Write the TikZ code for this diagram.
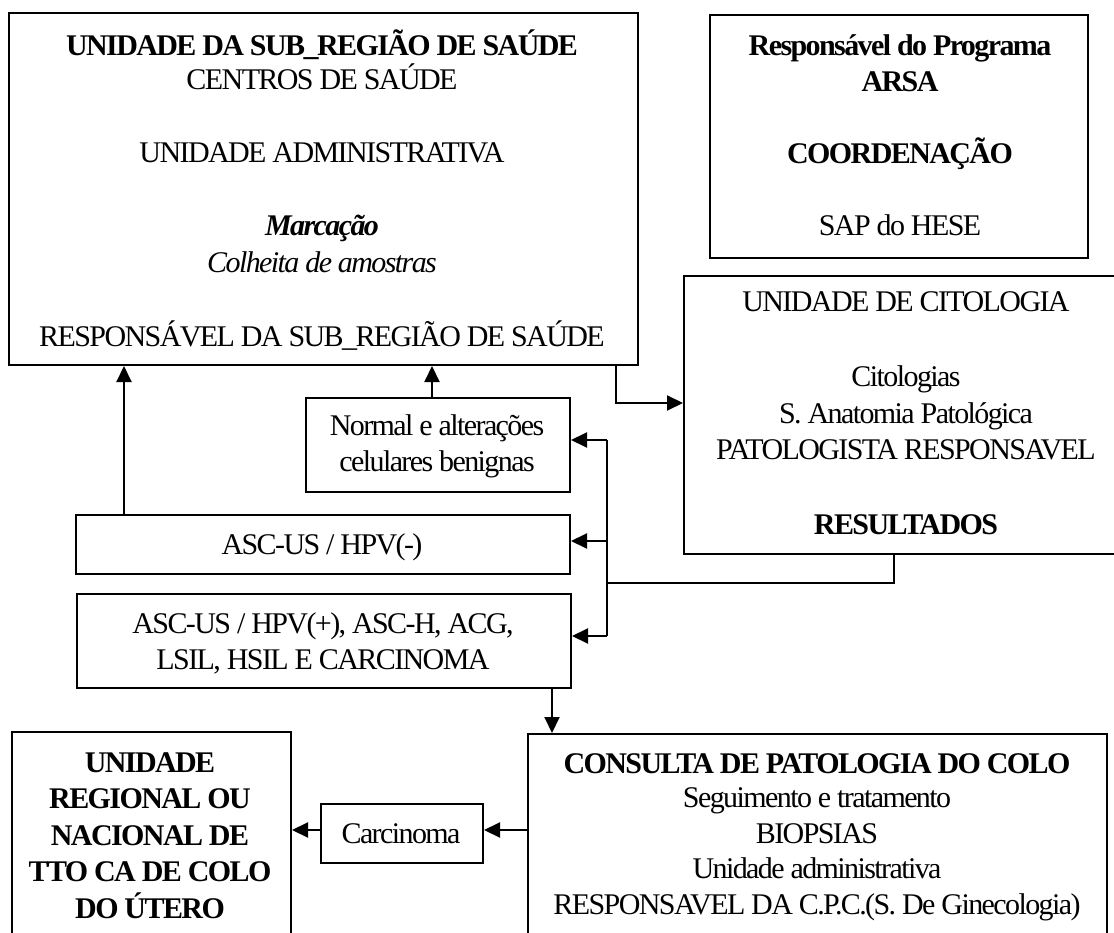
\documentclass[tikz,border=0pt]{standalone}
\usepackage{fontspec}
\setmainfont{Liberation Serif}[LetterSpace=-5.3]
\usetikzlibrary{arrows.meta}
\newcommand\diagfont{\fontsize{30}{36}\selectfont}
\tikzset{
  box/.style={draw, line width=2pt, inner sep=0pt, anchor=north west},
  txt/.style={anchor=base, inner sep=0pt, font=\diagfont},
  bold/.style={anchor=base, inner sep=0pt, font=\diagfont\bfseries},
  conn/.style={line width=2pt},
  arr/.style={line width=2pt, -{Triangle[length=16pt,width=15pt]}},
}
\begin{document}
\begin{tikzpicture}[x=1pt,y=-1pt]
\useasboundingbox (0,0) rectangle (1114,933);
\fill[white] (0,0) rectangle (1114,933);
\clip (0,0) rectangle (1114,933);

% boxes
\node[box, minimum width=629pt, minimum height=352pt] (A) at (8,12) {};
\node[box, minimum width=378pt, minimum height=243pt] (B) at (709,14) {};
\node[box, minimum width=447pt, minimum height=278pt] (C) at (683,275) {};
\node[box, minimum width=264pt, minimum height=94pt]  (D) at (305,397) {};
\node[box, minimum width=494pt, minimum height=59pt]  (E) at (75,514) {};
\node[box, minimum width=494pt, minimum height=94pt]  (F) at (76,593) {};
\node[box, minimum width=579pt, minimum height=260pt] (G) at (527,733) {};
\node[box, minimum width=279pt, minimum height=260pt] (H) at (11,731) {};
\node[box, minimum width=162pt, minimum height=59pt]  (I) at (320,803) {};

% sub-region unit
\node[bold] (a1) at (322,56) {UNIDADE DA SUB\_REGIÃO DE SAÚDE};
\node[txt]  (a2) at (322,90) {CENTROS DE SAÚDE};
\node[txt]  (a3) at (322,163) {UNIDADE ADMINISTRATIVA};
\node[bold] (a4) at (322,236) {\itshape Marcação};
\node[txt]  (a5) at (322,273) {\itshape Colheita de amostras};
\node[txt]  (a6) at (322,346) {RESPONSÁVEL DA SUB\_REGIÃO DE SAÚDE};

% programme coordination
\node[bold] (b1) at (900,56) {Responsável do Programa};
\node[bold] (b2) at (900,92) {ARSA};
\node[bold] (b3) at (900,164) {COORDENAÇÃO};
\node[txt]  (b4) at (900,236) {SAP do HESE};

% cytology unit
\node[txt]  (c1) at (906,312) {UNIDADE DE CITOLOGIA};
\node[txt]  (c2) at (906,386) {Citologias};
\node[txt]  (c3) at (906,423) {S. Anatomia Patológica};
\node[txt]  (c4) at (906,459) {PATOLOGISTA RESPONSAVEL};
\node[bold] (c5) at (906,534) {RESULTADOS};

% results
\node[txt] (d1) at (437,435) {Normal e alterações};
\node[txt] (d2) at (437,471) {celulares benignas};
\node[txt] (e1) at (322,554) {ASC-US / HPV(-)};
\node[txt] (f1) at (323,633) {ASC-US / HPV(+), ASC-H, ACG,};
\node[txt] (f2) at (323,669) {LSIL, HSIL E CARCINOMA};

% cervical pathology consultation
\node[bold] (g1) at (817,773) {CONSULTA DE PATOLOGIA DO COLO};
\node[txt]  (g2) at (817,807) {Seguimento e tratamento};
\node[txt]  (g3) at (817,843) {BIOPSIAS};
\node[txt]  (g4) at (817,878) {Unidade administrativa};
\node[txt]  (g5) at (817,914) {RESPONSAVEL DA C.P.C.(S. De Ginecologia)};

% treatment unit
\node[bold] (h1) at (150,772) {UNIDADE};
\node[bold] (h2) at (150,808) {REGIONAL OU};
\node[bold] (h3) at (150,845) {NACIONAL DE};
\node[bold] (h4) at (150,881) {TTO CA DE COLO};
\node[bold] (h5) at (150,918) {DO ÚTERO};

\node[txt] (i1) at (401,843) {Carcinoma};

% connectors
\coordinate (xe) at (124,0);
\coordinate (xd) at (432,0);
\draw[arr] (xe |- E.north) -- (xe |- A.south);
\draw[arr] (xd |- D.north) -- (xd |- A.south);

\coordinate (ac) at (616,403);
\draw[arr] (ac |- A.south) -- (ac) -- (ac -| C.west);

\coordinate (cr) at (894,583);
\coordinate (t1) at (607,440);
\coordinate (t2) at (607,541);
\coordinate (t3) at (607,636);
\draw[conn] (cr |- C.south) -- (cr) -- (cr -| t1);
\draw[conn] (t1) -- (t3);
\draw[arr] (t1) -- (t1 -| D.east);
\draw[arr] (t2) -- (t2 -| E.east);
\draw[arr] (t3) -- (t3 -| F.east);

\coordinate (xf) at (552,0);
\draw[arr] (xf |- F.south) -- (xf |- G.north);

\coordinate (gy) at (0,830);
\draw[arr] (gy -| G.west) -- (gy -| I.east);
\draw[arr] (gy -| I.west) -- (gy -| H.east);
\end{tikzpicture}
\end{document}
